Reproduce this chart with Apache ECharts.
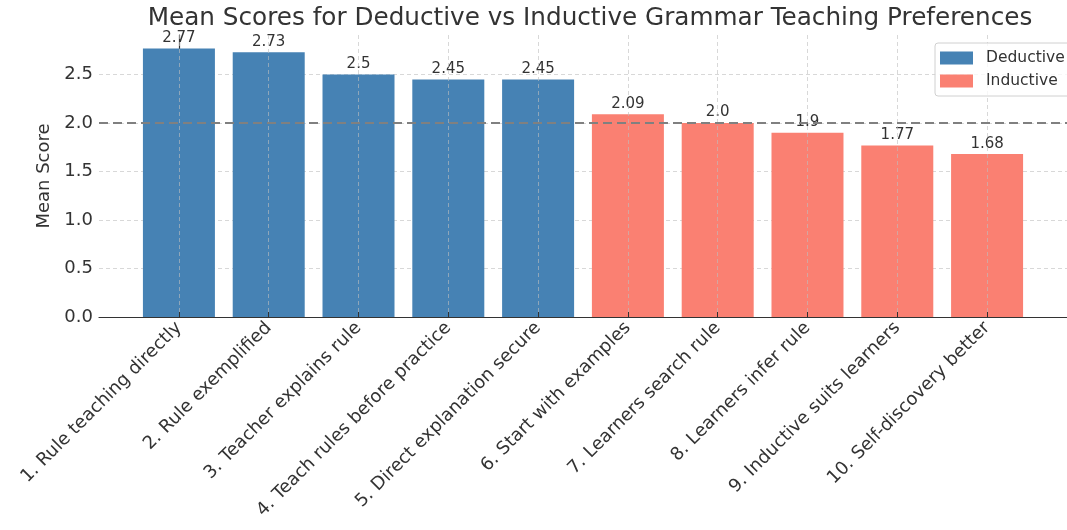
<!DOCTYPE html>
<html>
<head>
<meta charset="utf-8">
<script src="https://cdn.jsdelivr.net/npm/echarts@6/dist/echarts.min.js"></script>
<style>
  html, body { margin: 0; padding: 0; background: #fff; }
  #chart { width: 1067px; height: 530px; }
</style>
</head>
<body>
<div id="chart"></div>
<script>
const labels = [
  '1. Rule teaching directly',
  '2. Rule exemplified',
  '3. Teacher explains rule',
  '4. Teach rules before practice',
  '5. Direct explanation secure',
  '6. Start with examples',
  '7. Learners search rule',
  '8. Learners infer rule',
  '9. Inductive suits learners',
  '10. Self-discovery better'
]
const scores = [2.77, 2.73, 2.5, 2.45, 2.45, 2.09, 2.0, 1.9, 1.77, 1.68]
const groups = ['Deductive', 'Deductive', 'Deductive', 'Deductive', 'Deductive',
  'Inductive', 'Inductive', 'Inductive', 'Inductive', 'Inductive']
const groupNames = ['Deductive', 'Inductive']
const groupColors = { Deductive: '#4682b4', Inductive: '#fa8072' }
const yTicks = [0, 0.5, 1.0, 1.5, 2.0, 2.5]
const refLine = 2.0

const positions = labels.map((_, i) => i)
const font = 'DejaVu Sans'
const gridLine = { color: 'rgba(190,190,190,0.6)', type: [4, 3], width: 1 }

const chart = echarts.init(document.getElementById('chart'))

const series = groupNames.map((g, gi) => ({
  name: g,
  type: 'bar',
  barWidth: 72,
  barGap: '-100%',
  itemStyle: { color: groupColors[g] },
  label: {
    show: true,
    position: 'top',
    distance: 3,
    fontFamily: font,
    fontSize: 15,
    color: '#333',
    formatter: (p) => {
      const v = p.value[1]
      return Number.isInteger(v) ? v.toFixed(1) : String(v)
    }
  },
  data: scores
    .map((v, i) => ({ v, i }))
    .filter(d => groups[d.i] === g)
    .map(d => [d.i, d.v]),
  markLine: gi === 0 ? {
    silent: true,
    symbol: 'none',
    label: { show: false },
    lineStyle: { color: '#808080', type: [9, 5], width: 2 },
    data: [{ yAxis: refLine }]
  } : undefined
}))

const option = {
  animation: false,
  textStyle: { fontFamily: font },
  title: {
    text: 'Mean Scores for Deductive vs Inductive Grammar Teaching Preferences',
    left: 585,
    textAlign: 'center',
    top: 1,
    textStyle: { fontFamily: font, fontSize: 24.7, fontWeight: 'normal', color: '#333' }
  },
  legend: {
    orient: 'vertical',
    left: 935,
    top: 43,
    padding: [6, 12, 6, 5],
    itemWidth: 33,
    itemHeight: 13,
    itemGap: 5,
    borderColor: '#d0d0d0',
    borderWidth: 1,
    borderRadius: 3,
    backgroundColor: 'rgba(255,255,255,0.8)',
    textStyle: { fontFamily: font, fontSize: 15.5, lineHeight: 18, color: '#333', padding: [0, 0, 0, 8] },
    data: groupNames.map(g => ({ name: g, icon: 'rect' }))
  },
  grid: { left: 99, top: 35, width: 977, bottom: 213 },
  xAxis: {
    type: 'value',
    min: -0.89,
    max: 9.89,
    z: 3,
    axisLine: { show: true, onZero: false, lineStyle: { color: '#333', width: 1.2 } },
    axisTick: { show: true, inside: true, length: 5, customValues: positions, lineStyle: { color: '#333' } },
    axisLabel: {
      customValues: positions,
      rotate: 45,
      margin: 8,
      fontFamily: font,
      fontSize: 18,
      color: '#333',
      formatter: (v) => labels[Math.round(v)]
    },
    splitLine: { show: true, lineStyle: gridLine }
  },
  yAxis: {
    type: 'value',
    min: 0,
    max: 2.9085,
    name: 'Mean Score',
    nameLocation: 'middle',
    nameGap: 33,
    nameTextStyle: { fontFamily: font, fontSize: 18, color: '#333' },
    axisLine: { show: true, lineStyle: { color: '#333', width: 1.2 } },
    axisTick: { show: true, inside: true, length: 7, customValues: yTicks, lineStyle: { color: '#333' } },
    axisLabel: {
      customValues: yTicks,
      margin: 6,
      fontFamily: font,
      fontSize: 18,
      color: '#333',
      formatter: (v) => v.toFixed(1)
    },
    splitLine: { show: true, lineStyle: gridLine }
  },
  series: series
}

chart.setOption(option)
</script>
</body>
</html>
